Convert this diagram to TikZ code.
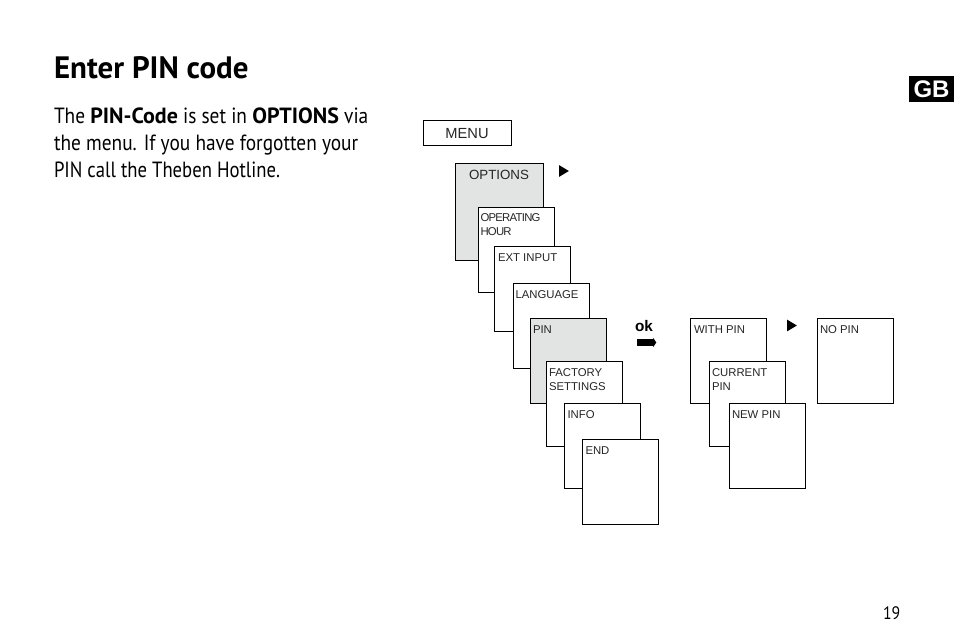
\documentclass[tikz,border=0pt]{standalone}
\usepackage{fontspec}
\setmainfont{PT Sans}[FakeStretch=0.88,BoldFeatures={FakeStretch=1.0}]
\newfontfamily\narrowfont{PT Sans}[FakeStretch=0.85]
\newfontfamily\boxfont{Liberation Sans}
\usetikzlibrary{shapes.geometric, shapes.arrows}
\definecolor{screengray}{RGB}{226,227,227}
\tikzset{
  screen/.style={draw=black,fill=white,line width=0.75pt,inner sep=0pt,outer sep=0pt,anchor=north west,minimum width=56.8pt,minimum height=63.8pt},
  lbl/.style={inner sep=0pt,outer sep=0pt,anchor=base west,font=\boxfont\fontsize{8.5pt}{9.8pt}\selectfont,align=left,text=black!85},
  bigtext/.style={inner sep=0pt,outer sep=0pt,anchor=base west,font=\fontsize{16.5pt}{20.25pt}\selectfont,align=left},
  play/.style={isosceles triangle,isosceles triangle apex angle=62,fill=black,inner sep=0pt,outer sep=0pt,minimum height=7.2pt,minimum width=7.6pt}
}
\begin{document}
\begin{tikzpicture}[x=0.75pt,y=-0.75pt]
\useasboundingbox (0,0) rectangle (954,643);
% text on the left
\node[bigtext,font=\bfseries\fontsize{23.2pt}{28pt}\selectfont] (title) at (54,78) {Enter PIN code};
\node[bigtext] (intro1) at (54,123) {The \textbf{PIN-Code} is set in \textbf{OPTIONS} via};
\node[bigtext] (intro2) at (54,150) {the menu. If you have forgotten your};
\node[bigtext,font=\narrowfont\fontsize{16.5pt}{20.25pt}\selectfont] (intro3) at (54,177) {PIN call the Theben Hotline.};
\node[fill=black,text=white,inner sep=0pt,outer sep=0pt,minimum width=33.75pt,minimum height=19.5pt,font=\boxfont\bfseries\fontsize{18pt}{18pt}\selectfont] (gb) at (931.5,89) {GB};
\node[bigtext,font=\fontsize{13.5pt}{14pt}\selectfont] (pageno) at (883,619) {19};
% menu
\node[screen,minimum width=66pt,minimum height=19pt] (menu) at (423,120.5) {};
\node[lbl,anchor=base,font=\boxfont\fontsize{11pt}{12pt}\selectfont] (menutxt) at (467,138.5) {MENU};
% first column
\node[screen,fill=screengray,minimum width=66pt,minimum height=73pt] (options) at (455.5,163.5) {};
\node[lbl,font=\boxfont\fontsize{10pt}{12pt}\selectfont] (optionstxt) at (469,179) {OPTIONS};
\node[screen] (hour) at (478.5,207.5) {};
\node[lbl,font=\boxfont\fontsize{8.5pt}{9.8pt}\addfontfeature{LetterSpace=-6.5}] (hourtxt) at (480.5,235) {OPERATING\\HOUR};
\node[screen] (input) at (494.5,246.5) {};
\node[lbl] (inputtxt) at (498,261) {EXT INPUT};
\node[screen] (language) at (513.5,283.5) {};
\node[lbl] (languagetxt) at (515.5,298) {LANGUAGE};
\node[screen,fill=screengray] (pin) at (530.5,318.5) {};
\node[lbl] (pintxt) at (533,333) {PIN};
\node[screen] (factory) at (546.5,361.5) {};
\node[lbl] (factorytxt) at (549,390) {FACTORY\\SETTINGS};
\node[screen] (info) at (564.5,403.5) {};
\node[lbl] (infotxt) at (567.5,418) {INFO};
\node[screen] (end) at (582.5,439.5) {};
\node[lbl] (endtxt) at (585.5,454) {END};
% second column
\node[screen] (withpin) at (690.5,318.5) {};
\node[lbl] (withpintxt) at (694,333) {WITH PIN};
\node[screen] (current) at (709.5,361.5) {};
\node[lbl] (currenttxt) at (712,390) {CURRENT\\PIN};
\node[screen] (newpin) at (729.5,403.5) {};
\node[lbl] (newpintxt) at (732,418) {NEW PIN};
\node[screen] (nopin) at (817.5,318.5) {};
\node[lbl] (nopintxt) at (820,333) {NO PIN};
% markers
\node[play] (next1) at (562.5,171) {};
\node[play] (next2) at (790.5,325.5) {};
\node[lbl,font=\boxfont\bfseries\fontsize{11.5pt}{12pt}\selectfont,text=black] (oktxt) at (635,331) {ok};
\node[single arrow,fill=black,inner sep=2pt,outer sep=0pt,minimum height=14.5pt,minimum width=7pt,single arrow head extend=0.8pt,single arrow tip angle=110] (okarrow) at (645.5,342.5) {};
\end{tikzpicture}
\end{document}
